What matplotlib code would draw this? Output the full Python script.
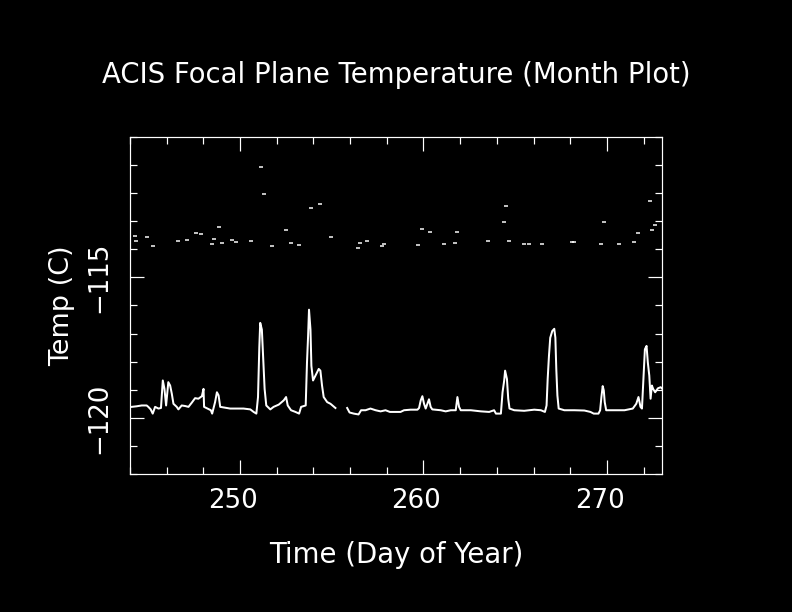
import numpy as np
import matplotlib
matplotlib.use("Agg")
import matplotlib.pyplot as plt
from matplotlib.transforms import ScaledTranslation

# Focal plane temperature, main trace (day of year, deg C); None = data gap
day = [244.09, 244.36, 244.64, 244.91, 245.00, 245.13, 245.24, 245.37, 245.55, 245.69,
       245.79, 245.88, 245.97, 246.09, 246.19, 246.28, 246.37, 246.55, 246.64, 246.82,
       247.01, 247.19, 247.37, 247.55, 247.73, 247.92, 248.01, 248.04, 248.23, 248.41,
       248.48, 248.55, 248.64, 248.74, 248.83, 248.92, 249.19, 249.46, 249.83, 250.19,
       250.56, 250.74, 250.89, 250.98, 251.05, 251.10, 251.19, 251.27, 251.34, 251.43,
       251.65, 251.83, 252.11, 252.38, 252.51, 252.60, 252.78, 253.02, 253.22, 253.33,
       253.58, 253.65, 253.71, 253.76, 253.84, 253.89, 253.98, 254.11, 254.29, 254.38,
       254.47, 254.56, 254.75, 254.93, 255.07, 255.20, 255.50, 255.84, 255.97, 256.20,
       256.46, 256.60, 256.84, 257.11, 257.39, 257.66, 257.93, 258.17, 258.75, 258.94,
       259.30, 259.67, 259.76, 259.85, 259.94, 260.03, 260.12, 260.21, 260.30, 260.39,
       260.48, 260.94, 261.21, 261.49, 261.76, 261.85, 261.94, 262.03, 262.58, 263.13,
       263.58, 263.85, 263.95, 264.22, 264.31, 264.40, 264.45, 264.55, 264.62, 264.69,
       264.95, 265.49, 266.04, 266.40, 266.62, 266.71, 266.77, 266.84, 266.91, 267.02,
       267.13, 267.19, 267.24, 267.30, 267.37, 267.68, 268.23, 268.77, 269.10, 269.28,
       269.54, 269.63, 269.70, 269.77, 269.83, 269.88, 269.96, 270.41, 270.96, 271.41,
       271.60, 271.72, 271.83, 271.91, 272.00, 272.07, 272.16, 272.23, 272.31, 272.38,
       272.45, 272.52, 272.63, 272.78, 272.93, 273.07]
temp = [-119.61, -119.59, -119.56, -119.56, -119.61, -119.70, -119.85, -119.61, -119.67, -119.65,
        -118.67, -118.97, -119.56, -118.73, -118.85, -119.14, -119.50, -119.61, -119.70, -119.56,
        -119.58, -119.61, -119.46, -119.30, -119.32, -119.23, -118.97, -119.61, -119.67, -119.73,
        -119.85, -119.67, -119.44, -119.09, -119.20, -119.61, -119.64, -119.67, -119.67, -119.67,
        -119.70, -119.79, -119.85, -119.26, -117.50, -116.62, -116.86, -118.03, -118.97, -119.56,
        -119.70, -119.61, -119.53, -119.38, -119.26, -119.56, -119.73, -119.79, -119.85, -119.61,
        -119.56, -118.03, -117.09, -116.15, -116.86, -118.15, -118.67, -118.50, -118.26, -118.32,
        -118.85, -119.26, -119.44, -119.50, -119.58, -119.65, None, -119.65, -119.81, -119.85,
        -119.88, -119.73, -119.73, -119.67, -119.73, -119.77, -119.73, -119.79, -119.79, -119.73,
        -119.71, -119.71, -119.65, -119.38, -119.23, -119.50, -119.67, -119.50, -119.34, -119.61,
        -119.70, -119.73, -119.77, -119.73, -119.73, -119.26, -119.61, -119.73, -119.73, -119.77,
        -119.79, -119.73, -119.85, -119.85, -119.09, -118.67, -118.32, -118.62, -119.32, -119.67,
        -119.73, -119.75, -119.71, -119.73, -119.79, -119.56, -118.62, -117.80, -117.15, -116.91,
        -116.83, -117.15, -118.26, -119.20, -119.67, -119.73, -119.73, -119.74, -119.79, -119.85,
        -119.85, -119.73, -119.26, -118.87, -119.03, -119.44, -119.73, -119.73, -119.73, -119.67,
        -119.50, -119.26, -119.61, -119.67, -118.50, -117.56, -117.44, -118.03, -118.50, -119.32,
        -118.85, -118.97, -119.09, -118.95, -118.91, -119.00]

# scattered high readings
spike_day = [244.28, 244.33, 244.92, 245.26, 246.62, 247.10, 247.62, 247.88, 248.49, 248.58,
             248.88, 249.02, 249.58, 249.80, 250.61, 251.13, 251.32, 251.76, 252.52, 252.79,
             253.24, 253.88, 254.38, 254.94, 256.45, 256.56, 256.93, 257.73, 257.86, 259.68,
             259.94, 260.35, 261.14, 261.72, 261.85, 263.53, 264.38, 264.49, 264.65, 265.49,
             265.74, 266.46, 268.07, 268.20, 269.68, 269.85, 270.68, 271.49, 271.71, 272.36,
             272.45, 272.63]
spike_temp = [-113.52, -113.72, -113.56, -113.87, -113.72, -113.66, -113.42, -113.45, -113.80, -113.63,
              -113.20, -113.77, -113.66, -113.73, -113.70, -111.06, -112.04, -113.87, -113.31, -113.77,
              -113.84, -112.54, -112.39, -113.56, -113.94, -113.77, -113.70, -113.87, -113.80, -113.84,
              -113.27, -113.38, -113.80, -113.77, -113.38, -113.70, -113.03, -112.46, -113.70, -113.80,
              -113.80, -113.80, -113.73, -113.73, -113.80, -113.03, -113.80, -113.73, -113.42, -112.29,
              -113.31, -113.13]

plt.rcParams['font.family'] = ['DejaVu Sans']

fig = plt.figure(figsize=(11, 8.5), dpi=72, facecolor='black')
ax = fig.add_axes([0.1641, 0.2255, 0.6717, 0.5507], facecolor='black')

t = np.array([np.nan if v is None else v for v in temp], dtype=float)
ax.plot(day, t, color='white', lw=2)
ax.plot(spike_day, spike_temp, ls='none', marker='_', ms=4, mew=1.5, color='white')

ax.set_xlim(244, 273)
ax.set_ylim(-122, -110)
ax.set_xticks([250, 260, 270])
ax.set_xticks(np.arange(244, 274, 2), minor=True)
ax.set_yticks([-120, -115])
ax.set_yticks(np.arange(-122, -109, 1), minor=True)

for s in ax.spines.values():
    s.set_color('white')
    s.set_linewidth(1.2)

ax.tick_params(which='both', direction='in', colors='white', top=True, right=True, width=1.2)
ax.tick_params(which='major', length=14)
ax.tick_params(which='minor', length=7)
ax.tick_params(axis='x', labelsize=26, pad=14)
ax.tick_params(axis='y', labelsize=26, pad=18, labelrotation=90)
for lab in ax.get_yticklabels():
    lab.set_va('center')
for lab in ax.get_xticklabels():
    lab.set_transform(lab.get_transform() + ScaledTranslation(-7 / 72, 0, fig.dpi_scale_trans))

ax.set_xlabel("Time (Day of Year)", color='white', fontsize=27.5, va='center')
ax.xaxis.set_label_coords(0.5, -0.24)
ax.set_ylabel("Temp (C)", color='white', fontsize=27, va='center')
ax.yaxis.set_label_coords(-0.128, 0.5)

fig.text(0.5, 1 - 75 / 612, "ACIS Focal Plane Temperature (Month Plot)",
         color='white', fontsize=27.5, ha='center', va='center')

fig.savefig("out.png", dpi=72, facecolor='black')
